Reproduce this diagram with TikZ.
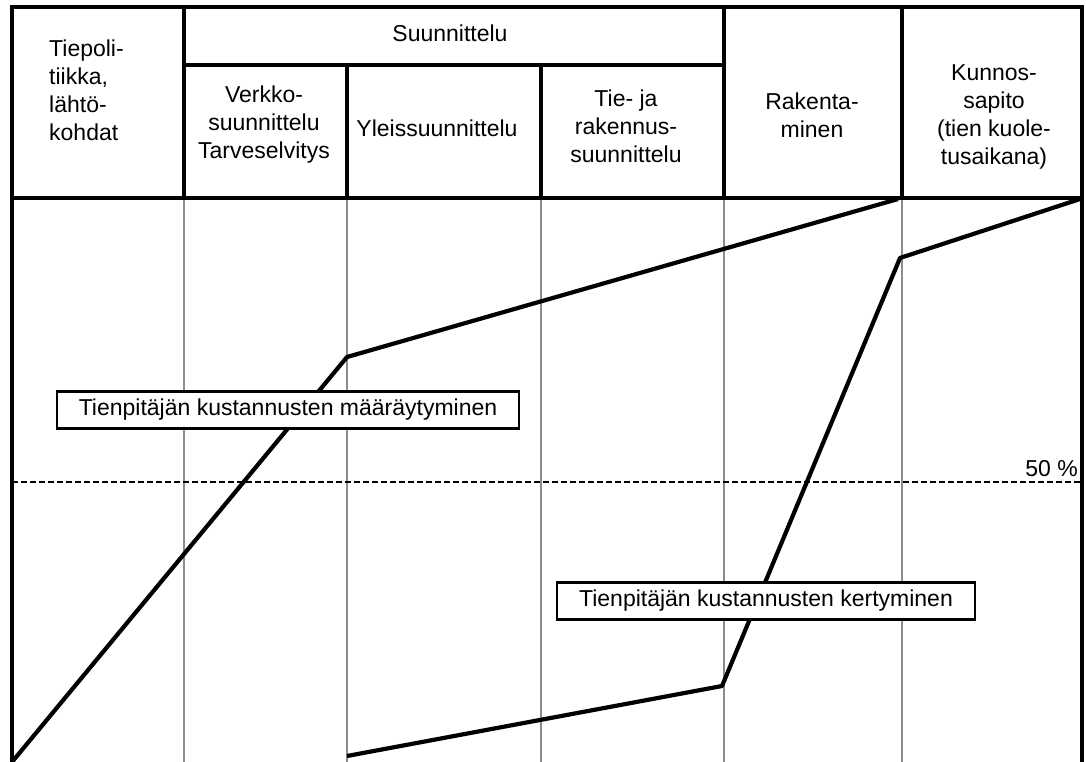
\documentclass[tikz,border=0pt]{standalone}
\usepackage{fontspec}
\setmainfont{Liberation Sans}
\usetikzlibrary{positioning}

\begin{document}
\begin{tikzpicture}[x=1pt, y=-1pt,
	rule/.style={line width=3.2pt, line cap=rect},
	gridline/.style={line width=1.3pt, black!45},
	cost/.style={line width=4.2pt, line join=round},
	half/.style={line width=2pt, dash pattern=on 6pt off 3pt},
	hdr/.style={align=center, inner sep=0pt, font=\fontsize{23}{28}\selectfont},
	lbl/.style={draw, line width=2.2pt, fill=white, inner sep=0pt, minimum height=37pt, font=\fontsize{23}{28}\selectfont}]
	\useasboundingbox (0,0) rectangle (1086,762);

	\foreach \x in {184,347,541,724,902}
		\draw[gridline] (\x,198) -- (\x,762);
	\draw[half] (12,482) -- (1082,482);
	\node[hdr, anchor=base east] (puoli) at (1078,476) {50 \%};

	% maaraytyminen
	\coordinate (m0) at (12,762);
	\coordinate (m1) at (347,357);
	\coordinate (m2) at (898,199);
	% kertyminen
	\coordinate (k0) at (347,756);
	\coordinate (k1) at (722,686);
	\coordinate (k2) at (900,258);
	\coordinate (k3) at (1080,199);
	\draw[cost] (m0) -- (m1) -- (m2);
	\draw[cost] (k0) -- (k1) -- (k2) -- (k3);

	\node[lbl, minimum width=462pt] (maar) at (288,410) {Tienpitäjän kustannusten määräytyminen};
	\node[lbl, minimum width=418pt] (kert) at (766,601) {Tienpitäjän kustannusten kertyminen};

	\draw[rule] (12,762) -- (12,7) -- (1082,7) -- (1082,762);
	\draw[rule] (12,198) -- (1082,198);
	\draw[rule] (184,65) -- (724,65);
	\foreach \x in {184,724,902}
		\draw[rule] (\x,7) -- (\x,198);
	\foreach \x in {347,541}
		\draw[rule] (\x,65) -- (\x,198);

	\node[hdr, align=left, anchor=west] (tiepol) at (49,90) {Tiepoli-\\tiikka,\\lähtö-\\kohdat};
	\node[hdr] (suunn) at (450,33) {Suunnittelu};
	\node[hdr] (verkko) at (264,125) {Verkko-\\suunnittelu\\Tarveselvitys};
	\node[hdr] (yleis) at (437,128) {Yleissuunnittelu};
	\node[hdr] (tiera) at (626,126) {Tie- ja\\rakennus-\\suunnittelu};
	\node[hdr] (raken) at (812,115) {Rakenta-\\minen};
	\node[hdr] (kunnos) at (994,117) {Kunnos-\\sapito\\(tien kuole-\\tusaikana)};
\end{tikzpicture}
\end{document}
